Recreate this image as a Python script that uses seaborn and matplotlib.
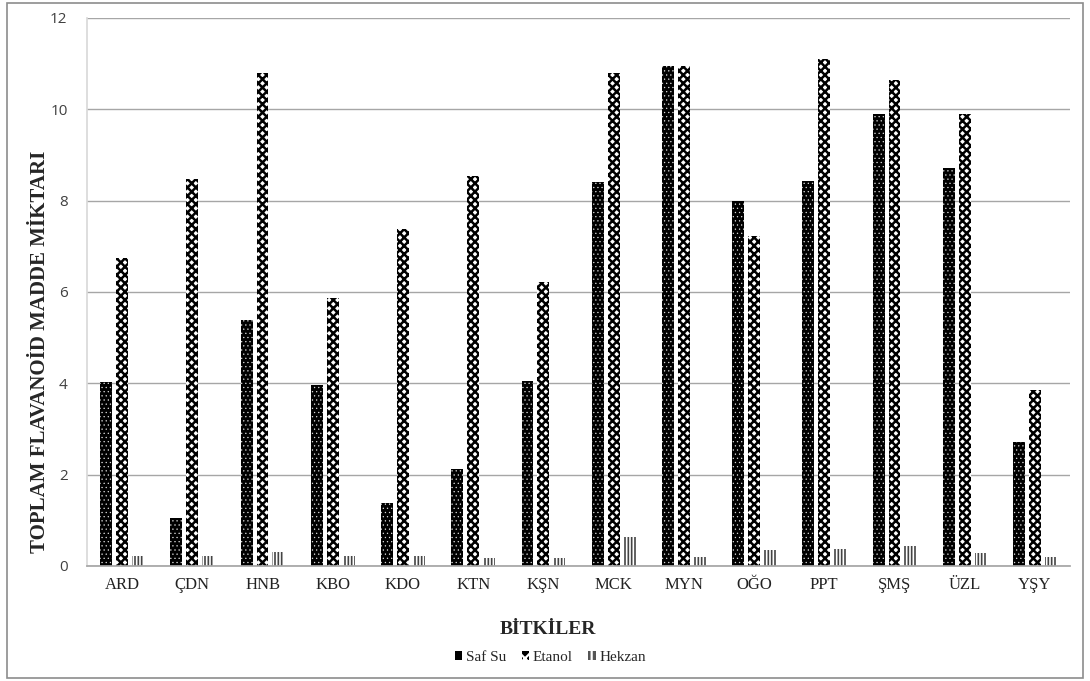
import pandas as pd
import matplotlib.pyplot as plt
import matplotlib.patches as mpatches
import seaborn as sns

# Veriler
bitkiler = ["ARD", "ÇDN", "HNB", "KBO", "KDO", "KTN", "KŞN",
            "MCK", "MYN", "OĞO", "PPT", "ŞMŞ", "ÜZL", "YŞY"]
saf_su = [4.02, 1.05, 5.38, 3.97, 1.37, 2.13, 4.05, 8.40, 10.95, 8.00, 8.42, 9.90, 8.72, 2.72]
etanol = [6.75, 8.47, 10.80, 5.87, 7.38, 8.55, 6.22, 10.80, 10.95, 7.22, 11.10, 10.65, 9.90, 3.85]
hekzan = [0.22, 0.22, 0.30, 0.22, 0.22, 0.18, 0.18, 0.63, 0.20, 0.35, 0.37, 0.43, 0.28, 0.20]
cozuculer = ["Saf Su", "Etanol", "Hekzan"]

df = pd.DataFrame({"Bitki": bitkiler, "Saf Su": saf_su, "Etanol": etanol, "Hekzan": hekzan})
df = df.melt(id_vars="Bitki", var_name="Çözücü", value_name="Miktar")

sns.set_theme(style="whitegrid")
plt.rcParams["hatch.linewidth"] = 1.6

fig = plt.figure(figsize=(10.9, 6.81), dpi=100)
ax = fig.add_axes([0.0798, 0.1689, 0.9019, 0.8047])

sns.barplot(data=df, x="Bitki", y="Miktar", hue="Çözücü", hue_order=cozuculer,
            order=bitkiler, width=0.68, gap=0.25, ax=ax, legend=False,
            errorbar=None, saturation=1)

# Desenler
stiller = [
    {"fc": "black", "ec": "#dddddd", "hatch": "....", "hlw": 0.4},
    {"fc": "white", "ec": "black", "hatch": "xxxx", "hlw": 1.8},
    {"fc": "white", "ec": "#444444", "hatch": "|||||", "hlw": 1.2},
]
for cont, st in zip(ax.containers, stiller):
    for bar in cont:
        bar.set_facecolor(st["fc"])
        bar.set_edgecolor(st["ec"])
        bar.set_hatch(st["hatch"])
        bar.set_linewidth(0)
        if hasattr(bar, "set_hatch_linewidth"):
            bar.set_hatch_linewidth(st["hlw"])

ax.set_ylim(0, 12)
ax.set_yticks(range(0, 13, 2))
ax.set_xlim(-0.5, len(bitkiler) - 0.5)
ax.grid(axis="y", color="#a6a6a6", linewidth=1)
ax.grid(axis="x", visible=False)
ax.set_facecolor("white")
for s in ["top", "right"]:
    ax.spines[s].set_visible(False)
ax.spines["left"].set_color("#d9d9d9")
ax.spines["bottom"].set_color("#a6a6a6")

ax.tick_params(axis="y", labelsize=11, labelcolor="#404040", pad=14, length=0)
ax.tick_params(axis="x", labelsize=12, labelcolor="#222222", pad=8, length=0)
for t in ax.get_xticklabels():
    t.set_fontfamily("Liberation Serif")
for t in ax.get_yticklabels():
    t.set_fontfamily("Open Sans")

ax.set_xlabel("")
ax.set_ylabel("")
fig.text(0.037, 0.483, "TOPLAM FLAVANOİD MADDE MİKTARI", rotation=90, ha="center", va="center",
         fontsize=15, fontweight="bold", family="Liberation Serif")
fig.text(0.503, 0.075, "BİTKİLER", ha="center", va="center", fontsize=14,
         fontweight="bold", family="Liberation Serif")

# Lejant
tutamaclar = [mpatches.Patch(facecolor=c, edgecolor="white", hatch=h, linewidth=0, label=n)
              for c, h, n in zip(["black", "black", "#555555"], ["", "xx", "|||"], cozuculer)]
fig.legend(handles=tutamaclar, loc="center", bbox_to_anchor=(0.505, 0.035), ncol=3, frameon=False,
           prop={"family": "Liberation Serif", "size": 11}, handlelength=0.5, handleheight=0.5,
           handletextpad=0.25, columnspacing=1.0)

# Çerçeve
fig.patches.append(mpatches.Rectangle((0.006, 0.005), 0.988, 0.99, transform=fig.transFigure,
                                      fill=False, edgecolor="#8c8c8c", linewidth=1.2))

plt.savefig("out.png", dpi=100)
plt.close()
